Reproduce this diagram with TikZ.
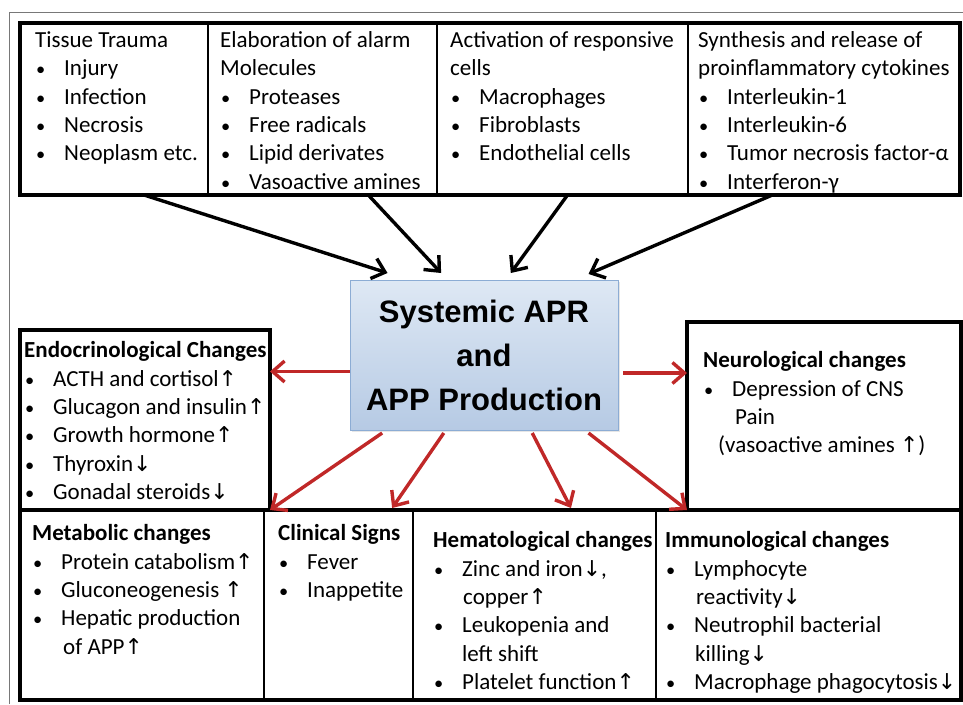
\documentclass[tikz,border=0pt]{standalone}
\usepackage{fontspec}
\setmainfont{Carlito}
\newfontfamily\aprfont{Liberation Sans}
\newfontfamily\arrfont[Scale=0.95]{DejaVu Sans}
\usetikzlibrary{positioning}
\usetikzlibrary{arrows.meta}
\usetikzlibrary{calc}
\usetikzlibrary{shadows}
\definecolor{aprred}{RGB}{192,40,40}
\definecolor{aprtop}{RGB}{222,232,244}
\definecolor{aprbot}{RGB}{182,202,228}
\definecolor{aprline}{RGB}{140,172,212}
\definecolor{framegray}{RGB}{120,120,120}
\newcommand{\up}{{\arrfont\char"2191}}
\newcommand{\dn}{{\arrfont\char"2193}}
\newcommand{\bl}{\makebox[29pt][l]{\hspace{1pt}\scalebox{0.8}{\textbullet}}}

\begin{document}
\begin{tikzpicture}[x=1pt,y=-1pt,
  cell/.style={draw,line width=1.5pt,inner sep=0pt,outer sep=0pt,minimum height=#1},
  txt/.style={anchor=north west,align=left,inner sep=0pt,font=\fontsize{23}{28.3}\selectfont},
  thickframe/.style={line width=3.2pt},
  blackarrow/.style={line width=3.4pt,-{Straight Barb[length=12pt,width=21pt]}},
  redarrow/.style={line width=3.4pt,draw=aprred,-{Straight Barb[length=12pt,width=21pt]}}]
\useasboundingbox (0,0) rectangle (963,704);
\draw[framegray,line width=0.8pt] (9,704) -- (9,12) -- (963,12);

\node[cell=172pt,minimum width=188pt,anchor=north west] (trauma) at (20,23) {};
\node[cell=172pt,minimum width=229pt,right=0pt of trauma] (alarm) {};
\node[cell=172pt,minimum width=251pt,right=0pt of alarm] (cells) {};
\node[cell=172pt,minimum width=272pt,right=0pt of cells] (cyto) {};
\draw[thickframe] (trauma.north west) rectangle (cyto.south east);

\node[txt] (traumatxt) at ($(trauma.north west)+(15,8.5)$) {Tissue Trauma\\ \bl Injury\\ \bl Infection\\ \bl Necrosis\\ \bl Neoplasm etc.};
\node[txt] (alarmtxt) at ($(alarm.north west)+(12,8.5)$) {Elaboration of alarm\\ Molecules\\ \bl Proteases\\ \bl Free radicals\\ \bl Lipid derivates\\ \bl Vasoactive amines};
\node[txt] (cellstxt) at ($(cells.north west)+(13,8.5)$) {Activation of responsive\\ cells\\ \bl Macrophages\\ \bl Fibroblasts\\ \bl Endothelial cells};
\node[txt] (cytotxt) at ($(cyto.north west)+(10,8.5)$) {Synthesis and release of\\ proinflammatory cytokines\\ \bl Interleukin-1\\ \bl Interleukin-6\\ \bl Tumor necrosis factor-α\\ \bl Interferon-γ};

\node[draw=aprline,line width=1pt,top color=aprtop,bottom color=aprbot,
  drop shadow={opacity=0.2,shadow xshift=2pt,shadow yshift=-2pt},
  minimum width=268pt,minimum height=150pt,anchor=north west,inner sep=0pt,outer sep=0pt,
  align=center,font=\aprfont\bfseries\fontsize{31}{44}\selectfont] (apr) at (350,280)
  {Systemic APR\\ and\\ APP Production};

\node[cell=180pt,minimum width=250pt,thickframe,anchor=north west] (endo) at (20,330) {};
\node[cell=188pt,minimum width=274pt,thickframe,anchor=north west] (neuro) at (687,322) {};
\node[txt] (endotxt) at ($(endo.north west)+(4,11.5)$) {\textbf{Endocrinological Changes}\\ \bl ACTH and cortisol\up\\ \bl Glucagon and insulin\up\\ \bl Growth hormone\up\\ \bl Thyroxin\dn\\ \bl Gonadal steroids\dn};
\node[txt] (neurotxt) at ($(neuro.north west)+(16,29.5)$) {\textbf{Neurological changes}\\ \bl Depression of CNS\\ \hspace*{32pt}Pain\\ \hspace*{15pt}(vasoactive amines \up)};

\node[cell=190pt,minimum width=244pt,anchor=north west] (metab) at (20,510) {};
\node[cell=190pt,minimum width=149pt,right=0pt of metab] (clinic) {};
\node[cell=190pt,minimum width=243pt,right=0pt of clinic] (hemato) {};
\node[cell=190pt,minimum width=305pt,right=0pt of hemato] (immuno) {};
\draw[thickframe] (metab.north west) rectangle (immuno.south east);

\node[txt] (metabtxt) at ($(metab.north west)+(12,14.5)$) {\textbf{Metabolic changes}\\ \bl Protein catabolism\up\\ \bl Gluconeogenesis \up\\ \bl Hepatic production\\ \hspace*{31pt}of APP\up};
\node[txt] (clinictxt) at ($(clinic.north west)+(14,14.5)$) {\textbf{Clinical Signs}\\ \bl Fever\\ \bl Inappetite};
\node[txt] (hematotxt) at ($(hemato.north west)+(20,21.5)$) {\textbf{Hematological changes}\\ \bl Zinc and iron\dn,\\ \hspace*{30pt}copper\up\\ \bl Leukopenia and\\ \hspace*{29pt}left shift\\ \bl Platelet function\up};
\node[txt] (immunotxt) at ($(immuno.north west)+(9,21.5)$) {\textbf{Immunological changes}\\ \bl Lymphocyte\\ \hspace*{31pt}reactivity\dn\\ \bl Neutrophil bacterial\\ \hspace*{30pt}killing\dn\\ \bl Macrophage phagocytosis\dn};

\draw[blackarrow] ($(trauma.south west)!0.66!(trauma.south east)$) -- ($(apr.north west)!0.14!(apr.north east)+(0,-7)$);
\draw[blackarrow] ($(alarm.south west)!0.70!(alarm.south east)$) -- ($(apr.north west)!0.34!(apr.north east)+(0,-7)$);
\draw[blackarrow] ($(cells.south west)!0.52!(cells.south east)$) -- ($(apr.north west)!0.60!(apr.north east)+(0,-7)$);
\draw[blackarrow] ($(cyto.south west)!0.31!(cyto.south east)$) -- ($(apr.north west)!0.89!(apr.north east)+(0,-6)$);

\draw[redarrow] ($(apr.north west)!0.61!(apr.south west)$) coordinate (el) -- (el -| endo.east);
\draw[redarrow] ($(apr.north east)!0.62!(apr.south east)+(5,0)$) coordinate (nr) -- (nr -| neuro.west);
\draw[redarrow] ($(apr.south west)!0.12!(apr.south east)+(0,3)$) -- (endo.south east);
\draw[redarrow] ($(apr.south west)!0.35!(apr.south east)+(0,3)$) -- ($(clinic.north west)!0.86!(clinic.north east)+(0,-2)$);
\draw[redarrow] ($(apr.south west)!0.68!(apr.south east)+(0,3)$) -- ($(hemato.north west)!0.65!(hemato.north east)+(0,-2)$);
\draw[redarrow] ($(apr.south west)!0.89!(apr.south east)+(0,3)$) -- (neuro.south west);
\end{tikzpicture}
\end{document}
